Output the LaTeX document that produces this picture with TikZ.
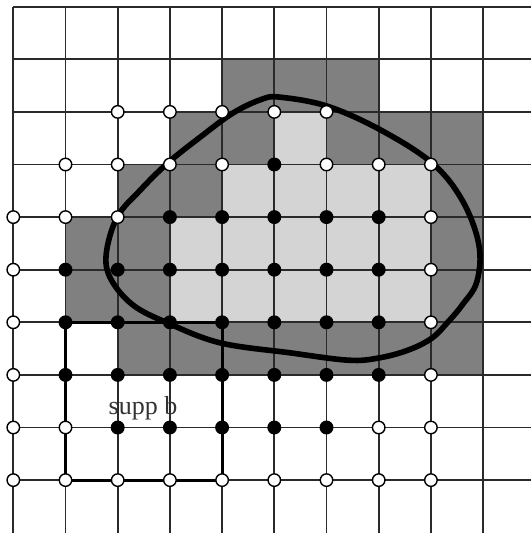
\documentclass[tikz,border=0pt]{standalone}
\usepackage{fontspec}
\setmainfont{Liberation Serif}
\definecolor{darkcell}{HTML}{808080}
\definecolor{lightcell}{HTML}{D4D4D4}
\definecolor{gridcol}{HTML}{2A2A2A}
\definecolor{textcol}{HTML}{333333}
\tikzset{
  gridline/.style={draw=gridcol, line width=1pt},
  darkbox/.style={fill=darkcell},
  lightbox/.style={fill=lightcell},
  opendot/.style={circle, draw=black, fill=white, line width=0.8pt, minimum size=0.25cm, inner sep=0pt},
  fulldot/.style={circle, draw=black, fill=black, line width=0.8pt, minimum size=0.25cm, inner sep=0pt},
  blob/.style={draw=black, line width=3.2pt},
  suppbox/.style={draw=black, line width=1.8pt},
  lbl/.style={font=\fontsize{14.8}{17}\selectfont, text=textcol, inner sep=0pt, anchor=base}
}
\begin{document}
\begin{tikzpicture}[x=1.044cm, y=-1.052cm]
\useasboundingbox (-0.2548,-0.1274) rectangle (9.9176,10.0057);
\fill[white] (-0.2548,-0.1274) rectangle (9.9176,10.0057);
% dark cells (col,row)
\foreach \c/\r in {4/1,5/1,6/1, 3/2,4/2,6/2,7/2,8/2, 2/3,3/3,8/3, 1/4,2/4,8/4, 1/5,2/5,8/5, 2/6,3/6,4/6,5/6,6/6,7/6,8/6}
  \path[darkbox] (\c,\r) rectangle ++(1,1);
% light cells
\foreach \c/\r in {5/2, 4/3,5/3,6/3,7/3, 3/4,4/4,5/4,6/4,7/4, 3/5,4/5,5/5,6/5,7/5}
  \path[lightbox] (\c,\r) rectangle ++(1,1);
% grid
\foreach \k in {0,...,9} {
  \draw[gridline] (0,\k) -- (9.9176,\k);
  \draw[gridline] (\k,0) -- (\k,10.0057);
}
% supp b square
\draw[suppbox] (1,6) rectangle (4,9);
\node[lbl] (supplabel) at (2.485,7.762) {supp b};
% blob
\draw[blob] plot[smooth cycle, tension=0.6] coordinates {
 (5.11,1.72) (6.01,1.89) (7.03,2.34) (8.02,2.97) (8.60,3.68) (8.92,4.53)
 (8.88,5.23) (8.60,5.67) (8.33,5.99) (8.02,6.30) (7.56,6.53) (6.99,6.68)
 (6.41,6.72) (5.30,6.58) (3.96,6.39) (2.95,6.01) (2.29,5.67)
 (1.87,5.18) (1.78,4.70) (1.99,4.00) (2.43,3.49) (2.96,2.97) (3.58,2.48)
 (4.21,2.02) (4.76,1.76)};
% open dots
\foreach \i/\j in {2/2,3/2,4/2,5/2,6/2,
  1/3,2/3,3/3,4/3,6/3,7/3,8/3,
  0/4,1/4,2/4,8/4,
  0/5,8/5, 0/6,8/6, 0/7,8/7,
  0/8,1/8,7/8,8/8,
  0/9,1/9,2/9,3/9,4/9,5/9,6/9,7/9,8/9}
  \node[opendot] (o-\i-\j) at (\i,\j) {};
% full dots
\foreach \i/\j in {5/3,
  3/4,4/4,5/4,6/4,7/4,
  1/5,2/5,3/5,4/5,5/5,6/5,7/5,
  1/6,2/6,3/6,4/6,5/6,6/6,7/6,
  1/7,2/7,3/7,4/7,5/7,6/7,7/7,
  2/8,3/8,4/8,5/8,6/8}
  \node[fulldot] (f-\i-\j) at (\i,\j) {};
\end{tikzpicture}
\end{document}
